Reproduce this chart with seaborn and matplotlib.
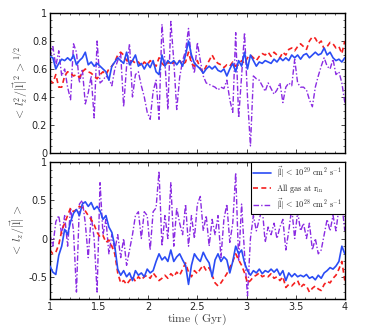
import numpy as np
import pandas as pd
import matplotlib
matplotlib.use("Agg")
import matplotlib.pyplot as plt
import seaborn as sns
from matplotlib.ticker import FuncFormatter, MultipleLocator

# time grid (Gyr)
time = np.round(np.linspace(1.0, 4.0, 101), 2)

# ---- top panel: < l_z^2/|l|^2 >^{1/2}
top_l29 = [0.69,0.68,0.60,0.64,0.67,0.66,0.68,0.66,0.70,0.63,
           0.66,0.68,0.72,0.63,0.65,0.62,0.64,0.62,0.60,0.58,
           0.52,0.62,0.65,0.68,0.66,0.64,0.72,0.63,0.66,0.70,
           0.62,0.64,0.60,0.64,0.61,0.66,0.58,0.56,0.70,0.62,
           0.66,0.64,0.66,0.63,0.66,0.62,0.70,0.80,0.70,0.64,
           0.62,0.60,0.57,0.60,0.62,0.60,0.62,0.59,0.58,0.60,
           0.55,0.60,0.64,0.58,0.66,0.62,0.72,0.60,0.70,0.66,
           0.62,0.65,0.64,0.66,0.65,0.64,0.67,0.65,0.68,0.66,
           0.68,0.66,0.70,0.68,0.70,0.67,0.70,0.71,0.68,0.70,
           0.72,0.70,0.71,0.75,0.70,0.72,0.68,0.66,0.67,0.65,
           0.68]
top_all = [0.52,0.50,0.56,0.47,0.47,0.55,0.58,0.57,0.55,0.56,
           0.54,0.58,0.60,0.58,0.57,0.55,0.53,0.56,0.58,0.56,
           0.60,0.62,0.65,0.70,0.72,0.70,0.66,0.65,0.66,0.64,
           0.65,0.62,0.65,0.63,0.66,0.64,0.62,0.68,0.64,0.62,
           0.65,0.63,0.65,0.64,0.66,0.63,0.65,0.72,0.64,0.62,
           0.66,0.60,0.58,0.62,0.66,0.70,0.66,0.64,0.63,0.61,
           0.63,0.62,0.65,0.62,0.63,0.66,0.64,0.68,0.70,0.68,
           0.66,0.69,0.71,0.70,0.72,0.69,0.72,0.70,0.68,0.72,
           0.70,0.74,0.75,0.73,0.76,0.78,0.76,0.74,0.80,0.83,
           0.82,0.78,0.80,0.74,0.76,0.79,0.78,0.75,0.76,0.71,
           0.80]
top_l28 = [0.68,0.76,0.62,0.73,0.55,0.60,0.47,0.38,0.78,0.72,
           0.50,0.60,0.35,0.43,0.55,0.25,0.80,0.50,0.52,0.55,
           0.53,0.48,0.60,0.66,0.71,0.33,0.62,0.78,0.40,0.56,
           0.58,0.48,0.40,0.29,0.24,0.44,0.52,0.24,0.92,0.65,
           0.31,0.94,0.66,0.31,0.54,0.66,0.73,0.89,0.66,0.57,
           0.79,0.66,0.55,0.50,0.49,0.48,0.47,0.45,0.47,0.46,
           0.52,0.38,0.29,0.86,0.25,0.55,0.86,0.40,0.05,0.55,
           0.53,0.52,0.48,0.44,0.50,0.46,0.42,0.45,0.50,0.36,
           0.47,0.50,0.48,0.67,0.50,0.47,0.47,0.45,0.38,0.33,
           0.47,0.55,0.62,0.68,0.62,0.60,0.67,0.56,0.58,0.50,
           0.36]

# ---- bottom panel: < l_z/|l| >
bot_l29 = [-0.36,-0.44,-0.47,-0.22,-0.10,0.12,0.05,0.22,0.33,0.38,
           0.30,0.45,0.48,0.42,0.47,0.38,0.42,0.36,0.25,0.30,
           0.15,0.08,-0.10,-0.40,-0.48,-0.42,-0.50,-0.45,-0.55,-0.42,
           -0.48,-0.45,-0.50,-0.40,-0.45,-0.42,-0.30,-0.20,-0.28,-0.24,
           -0.30,-0.15,-0.30,-0.24,-0.20,-0.28,-0.35,-0.60,-0.35,-0.20,
           -0.26,-0.30,-0.18,-0.26,-0.32,-0.50,-0.28,-0.20,-0.30,-0.24,
           -0.28,-0.45,-0.30,-0.10,-0.20,-0.15,-0.32,-0.42,-0.48,-0.42,
           -0.45,-0.40,-0.46,-0.42,-0.44,-0.40,-0.44,-0.40,-0.48,-0.42,
           -0.55,-0.45,-0.50,-0.46,-0.50,-0.48,-0.50,-0.47,-0.52,-0.50,
           -0.54,-0.48,-0.52,-0.45,-0.42,-0.38,-0.40,-0.36,-0.30,-0.10,
           -0.20]
bot_all = [-0.15,-0.20,-0.18,-0.08,0.10,0.20,0.30,0.40,0.35,0.38,
           0.42,0.40,0.36,0.30,0.25,0.18,0.08,0.02,0.04,-0.05,
           -0.02,-0.10,-0.20,-0.45,-0.58,-0.55,-0.60,-0.55,-0.50,-0.56,
           -0.50,-0.54,-0.50,-0.48,-0.52,-0.45,-0.50,-0.55,-0.52,-0.48,
           -0.52,-0.46,-0.50,-0.44,-0.48,-0.40,-0.32,-0.44,-0.50,-0.42,
           -0.46,-0.40,-0.35,-0.42,-0.38,-0.48,-0.58,-0.62,-0.58,-0.52,
           -0.46,-0.38,-0.30,-0.20,-0.28,-0.35,-0.45,-0.58,-0.55,-0.50,
           -0.48,-0.45,-0.50,-0.48,-0.50,-0.46,-0.52,-0.50,-0.55,-0.50,
           -0.64,-0.60,-0.62,-0.58,-0.55,-0.64,-0.60,-0.62,-0.70,-0.65,
           -0.62,-0.66,-0.68,-0.60,-0.56,-0.58,-0.52,-0.48,-0.40,-0.30,
           -0.55]
bot_l28 = [0.05,-0.10,0.22,0.30,0.05,0.30,-0.10,0.40,0.10,-0.70,
           0.45,0.50,0.20,-0.25,0.30,0.00,-0.70,0.73,0.05,0.25,
           -0.20,0.05,-0.15,0.05,-0.25,0.00,-0.35,-0.15,0.05,0.30,
           0.35,0.00,0.35,0.30,-0.15,0.35,0.40,0.88,-0.10,0.30,
           0.00,0.73,-0.10,0.40,0.20,0.05,0.45,-0.10,0.30,0.00,
           0.45,0.55,0.10,0.30,-0.10,0.25,0.05,0.30,-0.25,0.25,
           0.45,-0.05,0.20,0.86,-0.30,0.45,-0.20,-0.75,0.00,0.30,
           0.10,0.25,0.40,-0.05,0.15,0.05,0.20,0.00,0.15,0.25,
           -0.15,0.10,0.40,0.00,0.35,0.10,0.20,0.00,0.20,-0.15,
           0.00,-0.20,-0.15,0.05,0.25,0.10,0.30,0.10,0.40,0.45,
           0.10]

labels = [r"$|\vec{\mathrm{l}}|\,<\,10^{29}\ \mathrm{cm}^2\ \mathrm{s}^{-1}$",
          r"$\mathrm{All\ gas\ at\ r_{in}}$",
          r"$|\vec{\mathrm{l}}|\,<\,10^{28}\ \mathrm{cm}^2\ \mathrm{s}^{-1}$"]
x_ticks = [1, 1.5, 2, 2.5, 3, 3.5, 4]

sns.set_style("ticks")
plt.rcParams["font.family"] = ["DejaVu Sans"]
plt.rcParams["mathtext.fontset"] = "cm"
plt.rcParams["axes.unicode_minus"] = False

colors = ["#2a4cf5", "#f51f1f", "#8a2be2"]
styles = [dict(linestyle="-", linewidth=1.2),
          dict(linestyle=(0, (3, 2)), linewidth=1.2),
          dict(linestyle=(0, (4, 1.5, 1, 1.5)), linewidth=1.0)]

fig = plt.figure(figsize=(3.81, 3.26), dpi=100)
ax1 = fig.add_axes([0.131, 0.531, 0.774, 0.429])
ax2 = fig.add_axes([0.131, 0.083, 0.774, 0.420])

def draw(ax, series):
    order = [2, 1, 0]
    for i in order:
        df = pd.DataFrame({"time": time, "v": series[i]})
        sns.lineplot(data=df, x="time", y="v", ax=ax, color=colors[i],
                     label=labels[i], zorder=3 - i, **styles[i])

draw(ax1, [top_l29, top_all, top_l28])
draw(ax2, [bot_l29, bot_all, bot_l28])

fmt = FuncFormatter(lambda v, p: "%g" % v)
for ax in (ax1, ax2):
    ax.set_xlim(1, 4)
    ax.set_xticks(x_ticks)
    ax.xaxis.set_minor_locator(MultipleLocator(0.1))
    ax.tick_params(direction="in", top=True, right=True, length=3,
                   width=0.6, labelsize=7, pad=2)
    ax.tick_params(which="minor", direction="in", top=True, right=True,
                   length=1.5, width=0.5)
    ax.yaxis.set_major_formatter(fmt)
    ax.xaxis.set_major_formatter(fmt)
    for s in ax.spines.values():
        s.set_linewidth(1.0)
        s.set_color("black")
    ax.set_xlabel("")

ax1.set_ylim(0, 1)
ax1.set_yticks([0, 0.2, 0.4, 0.6, 0.8, 1])
ax1.yaxis.set_minor_locator(MultipleLocator(0.05))
ax1.set_xticklabels([])
ax1.set_ylabel(r"$<\,l_z^2/|\vec{\mathrm{l}}|^2\,>^{1/2}$", fontsize=8.5, color="#444444", labelpad=1)
ax1.get_legend().remove()

ax2.set_ylim(-0.79, 1)
ax2.set_yticks([-0.5, 0, 0.5, 1])
ax2.yaxis.set_minor_locator(MultipleLocator(0.1))
ax2.set_ylabel(r"$<\,l_z/|\vec{\mathrm{l}}|\,>$", fontsize=8.5, color="#444444", labelpad=1)
ax2.set_xlabel(r"$\mathrm{time\ (\ Gyr)}$", fontsize=8.5, color="#444444", labelpad=0)

h, l = ax2.get_legend_handles_labels()
hl = dict(zip(l, h))
leg = ax2.legend([hl[x] for x in labels], labels, loc="upper right",
                 fontsize=6, frameon=True, fancybox=False, framealpha=1,
                 borderpad=0.3, handlelength=2.2, handletextpad=0.6,
                 labelspacing=0.15, borderaxespad=0.0)
leg.get_frame().set_edgecolor("black")
leg.get_frame().set_linewidth(0.8)
leg.set_zorder(10)

fig.savefig("out.png", dpi=100)
